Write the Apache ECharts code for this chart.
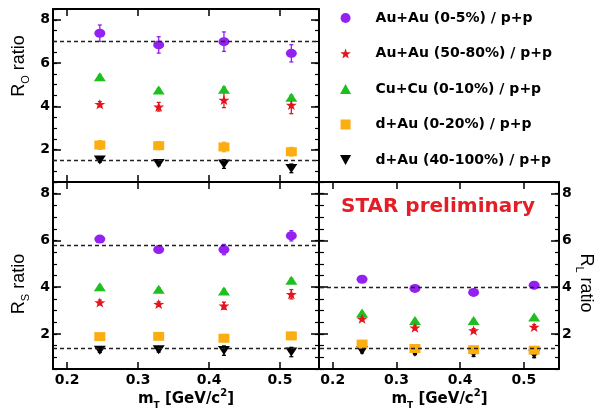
<!DOCTYPE html>
<html><head><meta charset="utf-8">
<script src="https://cdn.jsdelivr.net/npm/echarts@6/dist/echarts.min.js"></script>
<style>html,body{margin:0;padding:0;background:#fff}#c{width:598px;height:411px}</style>
</head><body><div id="c"></div>
<script>
// ---------- data ----------
const mT = [0.246, 0.329, 0.421, 0.516];
const seriesNames = ['Au+Au (0-5%) / p+p', 'Au+Au (50-80%) / p+p', 'Cu+Cu (0-10%) / p+p', 'd+Au (0-20%) / p+p', 'd+Au (40-100%) / p+p'];
const xTickValues = [0.2, 0.3, 0.4, 0.5];
const yTickValues = [2, 4, 6, 8];

// R_O panel
const RO_AuAu_0_5 = [7.38, 6.84, 6.99, 6.45];
const RO_AuAu_0_5_err = [0.38, 0.38, 0.45, 0.40];
const RO_AuAu_50_80 = [4.10, 3.98, 4.29, 4.06];
const RO_AuAu_50_80_err = [0.12, 0.20, 0.35, 0.40];
const RO_CuCu_0_10 = [5.37, 4.75, 4.79, 4.42];
const RO_CuCu_0_10_err = [0.08, 0.08, 0.10, 0.10];
const RO_dAu_0_20 = [2.21, 2.18, 2.12, 1.90];
const RO_dAu_0_20_err = [0.20, 0.18, 0.22, 0.20];
const RO_dAu_40_100 = [1.52, 1.36, 1.33, 1.13];
const RO_dAu_40_100_err = [0.10, 0.10, 0.20, 0.20];
const RO_refLines = [7.0, 1.5];

// R_S panel
const RS_AuAu_0_5 = [6.06, 5.61, 5.61, 6.20];
const RS_AuAu_0_5_err = [0.10, 0.10, 0.22, 0.22];
const RS_AuAu_50_80 = [3.35, 3.28, 3.21, 3.70];
const RS_AuAu_50_80_err = [0.10, 0.10, 0.15, 0.20];
const RS_CuCu_0_10 = [4.02, 3.91, 3.84, 4.30];
const RS_CuCu_0_10_err = [0.06, 0.06, 0.08, 0.08];
const RS_dAu_0_20 = [1.89, 1.90, 1.82, 1.92];
const RS_dAu_0_20_err = [0.12, 0.12, 0.15, 0.15];
const RS_dAu_40_100 = [1.31, 1.33, 1.29, 1.23];
const RS_dAu_40_100_err = [0.10, 0.10, 0.20, 0.20];
const RS_refLines = [5.8, 1.38];

// R_L panel
const RL_AuAu_0_5 = [4.34, 3.95, 3.78, 4.09];
const RL_AuAu_0_5_err = [0.08, 0.08, 0.08, 0.15];
const RL_AuAu_50_80 = [2.65, 2.27, 2.15, 2.30];
const RL_AuAu_50_80_err = [0.08, 0.08, 0.08, 0.10];
const RL_CuCu_0_10 = [2.90, 2.58, 2.58, 2.73];
const RL_CuCu_0_10_err = [0.05, 0.05, 0.05, 0.05];
const RL_dAu_0_20 = [1.57, 1.38, 1.33, 1.31];
const RL_dAu_0_20_err = [0.08, 0.10, 0.10, 0.15];
const RL_dAu_40_100 = [1.29, 1.22, 1.19, 1.14];
const RL_dAu_40_100_err = [0.10, 0.10, 0.15, 0.15];
const RL_refLines = [4.0, 1.38];

// ---------- styles ----------
const colors = ['#9420f2', '#e5141c', '#1fbf1f', '#fbae12', '#000000'];
const STAR = 'path://M0,-10 L2.35,-3.24 L9.51,-3.09 L3.80,1.24 L5.88,8.09 L0,4 L-5.88,8.09 L-3.80,1.24 L-9.51,-3.09 L-2.35,-3.24 Z';
const symbols = ['circle', STAR, 'path://M5,0 L10,9 L0,9 Z', 'path://M0,0 L10,0 L10,10 L0,10 Z', 'path://M0,0 L10,0 L5,9 Z'];
const symbolSizes = [[11, 9], [11, 10], [12, 9], [11, 9], [12, 9]];
const FONT = 'DejaVu Sans';

const panels = [
  {vals: [RO_AuAu_0_5, RO_AuAu_50_80, RO_CuCu_0_10, RO_dAu_0_20, RO_dAu_40_100],
   errs: [RO_AuAu_0_5_err, RO_AuAu_50_80_err, RO_CuCu_0_10_err, RO_dAu_0_20_err, RO_dAu_40_100_err], refs: RO_refLines},
  {vals: [RS_AuAu_0_5, RS_AuAu_50_80, RS_CuCu_0_10, RS_dAu_0_20, RS_dAu_40_100],
   errs: [RS_AuAu_0_5_err, RS_AuAu_50_80_err, RS_CuCu_0_10_err, RS_dAu_0_20_err, RS_dAu_40_100_err], refs: RS_refLines},
  {vals: [RL_AuAu_0_5, RL_AuAu_50_80, RL_CuCu_0_10, RL_dAu_0_20, RL_dAu_40_100],
   errs: [RL_AuAu_0_5_err, RL_AuAu_50_80_err, RL_CuCu_0_10_err, RL_dAu_0_20_err, RL_dAu_40_100_err], refs: RL_refLines}
];

const grids = [
  {left: 53, top: 9, width: 266, height: 173},
  {left: 53, top: 182, width: 266, height: 190},
  {left: 320, top: 182, width: 239, height: 190}
];

const lineStyle = {color: '#000', width: 2};
const labelFont = {fontFamily: FONT, fontWeight: 'bold', fontSize: 14, color: '#000'};
const mtName = '{m|m}{s|T}{m| [GeV/c}{p|2}{m|]}';
const mtRich = {
  m: {fontFamily: FONT, fontWeight: 'bold', fontSize: 15, lineHeight: 22, color: '#000'},
  s: {fontFamily: FONT, fontWeight: 'bold', fontSize: 9, lineHeight: 9, verticalAlign: 'bottom', color: '#000'},
  p: {fontFamily: FONT, fontWeight: 'bold', fontSize: 10, lineHeight: 10, verticalAlign: 'top', color: '#000'}
};

const xAxes = [], yAxes = [];
grids.forEach((g, gi) => {
  const showX = gi > 0;
  xAxes.push({
    gridIndex: gi, type: 'value', position: 'bottom', min: 0.18, max: 0.555,
    axisLine: {show: true, lineStyle}, splitLine: {show: false},
    axisTick: {show: true, inside: true, length: 7, customValues: xTickValues, lineStyle: {color: '#000', width: 1.5}},
    axisLabel: {show: showX, customValues: xTickValues, margin: 4, ...labelFont, formatter: v => v.toFixed(1)},
    name: showX ? mtName : '', nameLocation: 'middle', nameGap: 17,
    nameTextStyle: {rich: mtRich}
  });
  xAxes.push({
    gridIndex: gi, type: 'value', position: 'top', min: 0.18, max: 0.555,
    axisLine: {show: true, lineStyle}, splitLine: {show: false},
    axisTick: {show: true, inside: true, length: 7, customValues: xTickValues, lineStyle: {color: '#000', width: 1.5}},
    axisLabel: {show: false}
  });
  const leftLabels = gi < 2, rightLabels = gi === 2;
  // left major
  yAxes.push({
    gridIndex: gi, type: 'value', position: 'left', min: 0.5, max: 8.5,
    axisLine: {show: gi !== 2, lineStyle}, splitLine: {show: false},
    axisTick: {show: true, inside: true, length: 8, customValues: yTickValues, lineStyle: {color: '#000', width: 1.5}},
    axisLabel: {show: leftLabels, customValues: yTickValues, margin: 3, ...labelFont}
  });
  // left minor
  yAxes.push({
    gridIndex: gi, type: 'value', position: 'left', min: 0.5, max: 8.5, interval: 0.5,
    axisLine: {show: false}, splitLine: {show: false},
    axisTick: {show: true, inside: true, length: 4, lineStyle: {color: '#000', width: 1.2}},
    axisLabel: {show: false}
  });
  // right major
  yAxes.push({
    gridIndex: gi, type: 'value', position: 'right', min: 0.5, max: 8.5,
    axisLine: {show: true, lineStyle}, splitLine: {show: false},
    axisTick: {show: true, inside: true, length: 8, customValues: yTickValues, lineStyle: {color: '#000', width: 1.5}},
    axisLabel: {show: rightLabels, customValues: yTickValues, margin: 3, ...labelFont}
  });
  // right minor
  yAxes.push({
    gridIndex: gi, type: 'value', position: 'right', min: 0.5, max: 8.5, interval: 0.5,
    axisLine: {show: false}, splitLine: {show: false},
    axisTick: {show: true, inside: true, length: 4, lineStyle: {color: '#000', width: 1.2}},
    axisLabel: {show: false}
  });
});

const series = [];
const drawOrder = [4, 3, 2, 1, 0];
panels.forEach((p, gi) => {
  // reference dashed lines
  series.push({
    type: 'line', name: 'ref' + gi, xAxisIndex: gi * 2, yAxisIndex: gi * 4, data: [],
    silent: true,
    markLine: {
      silent: true, symbol: 'none', animation: false,
      label: {show: false},
      lineStyle: {color: '#222', width: 1.3, type: [4, 3]},
      data: p.refs.map(v => ({yAxis: v}))
    }
  });
  drawOrder.forEach(si => {
    const color = colors[si];
    series.push({
      type: 'custom', name: 'err' + gi + '_' + si, xAxisIndex: gi * 2, yAxisIndex: gi * 4,
      silent: true, animation: false, z: 2,
      data: mT.map((x, i) => [x, p.vals[si][i] - p.errs[si][i], p.vals[si][i] + p.errs[si][i]]),
      encode: {x: 0, y: [1, 2]},
      renderItem: (params, api) => {
        const lo = api.coord([api.value(0), api.value(1)]);
        const hi = api.coord([api.value(0), api.value(2)]);
        const st = {stroke: color, lineWidth: 1.3};
        return {type: 'group', children: [
          {type: 'line', shape: {x1: lo[0], y1: lo[1], x2: hi[0], y2: hi[1]}, style: st},
          {type: 'line', shape: {x1: lo[0] - 2, y1: lo[1], x2: lo[0] + 2, y2: lo[1]}, style: st},
          {type: 'line', shape: {x1: hi[0] - 2, y1: hi[1], x2: hi[0] + 2, y2: hi[1]}, style: st}
        ]};
      }
    });
    series.push({
      type: 'scatter', name: seriesNames[si], xAxisIndex: gi * 2, yAxisIndex: gi * 4,
      symbol: symbols[si], symbolSize: symbolSizes[si], symbolKeepAspect: false,
      itemStyle: {color: color, opacity: 1}, z: 3, animation: false,
      data: mT.map((x, i) => [x, p.vals[si][i]])
    });
  });
});

const yTitleRich = () => ({
  r: {fontFamily: 'Liberation Sans', fontSize: 18, lineHeight: 24, color: '#000'},
  s: {fontFamily: 'Liberation Sans', fontSize: 11, lineHeight: 11, verticalAlign: 'bottom', color: '#000'}
});

const option = {
  backgroundColor: '#fff',
  animation: false,
  grid: grids,
  xAxis: xAxes,
  yAxis: yAxes,
  series: series,
  title: {
    text: 'STAR preliminary', left: 336, top: 192,
    textStyle: {fontFamily: FONT, fontWeight: 'bold', fontSize: 20, color: '#e41e26'}
  },
  legend: {
    orient: 'vertical', left: 335, top: 6,
    data: seriesNames,
    itemWidth: 50, itemHeight: 10, itemGap: 21.5,
    symbolKeepAspect: true,
    textStyle: {fontFamily: FONT, fontWeight: 'bold', fontSize: 14, lineHeight: 14, color: '#000'},
    selectedMode: false
  },
  graphic: [
    {type: 'text', x: 19, y: 66, rotation: Math.PI / 2,
     style: {text: '{r|R}{s|O}{r| ratio}', rich: yTitleRich(), align: 'center', verticalAlign: 'middle'}},
    {type: 'text', x: 19, y: 284, rotation: Math.PI / 2,
     style: {text: '{r|R}{s|S}{r| ratio}', rich: yTitleRich(), align: 'center', verticalAlign: 'middle'}},
    {type: 'text', x: 586, y: 283, rotation: -Math.PI / 2,
     style: {text: '{r|R}{s|L}{r| ratio}', rich: yTitleRich(), align: 'center', verticalAlign: 'middle'}}
  ]
};

const chart = echarts.init(document.getElementById('c'), null, {renderer: 'canvas'});
chart.setOption(option);
</script>
</body></html>
